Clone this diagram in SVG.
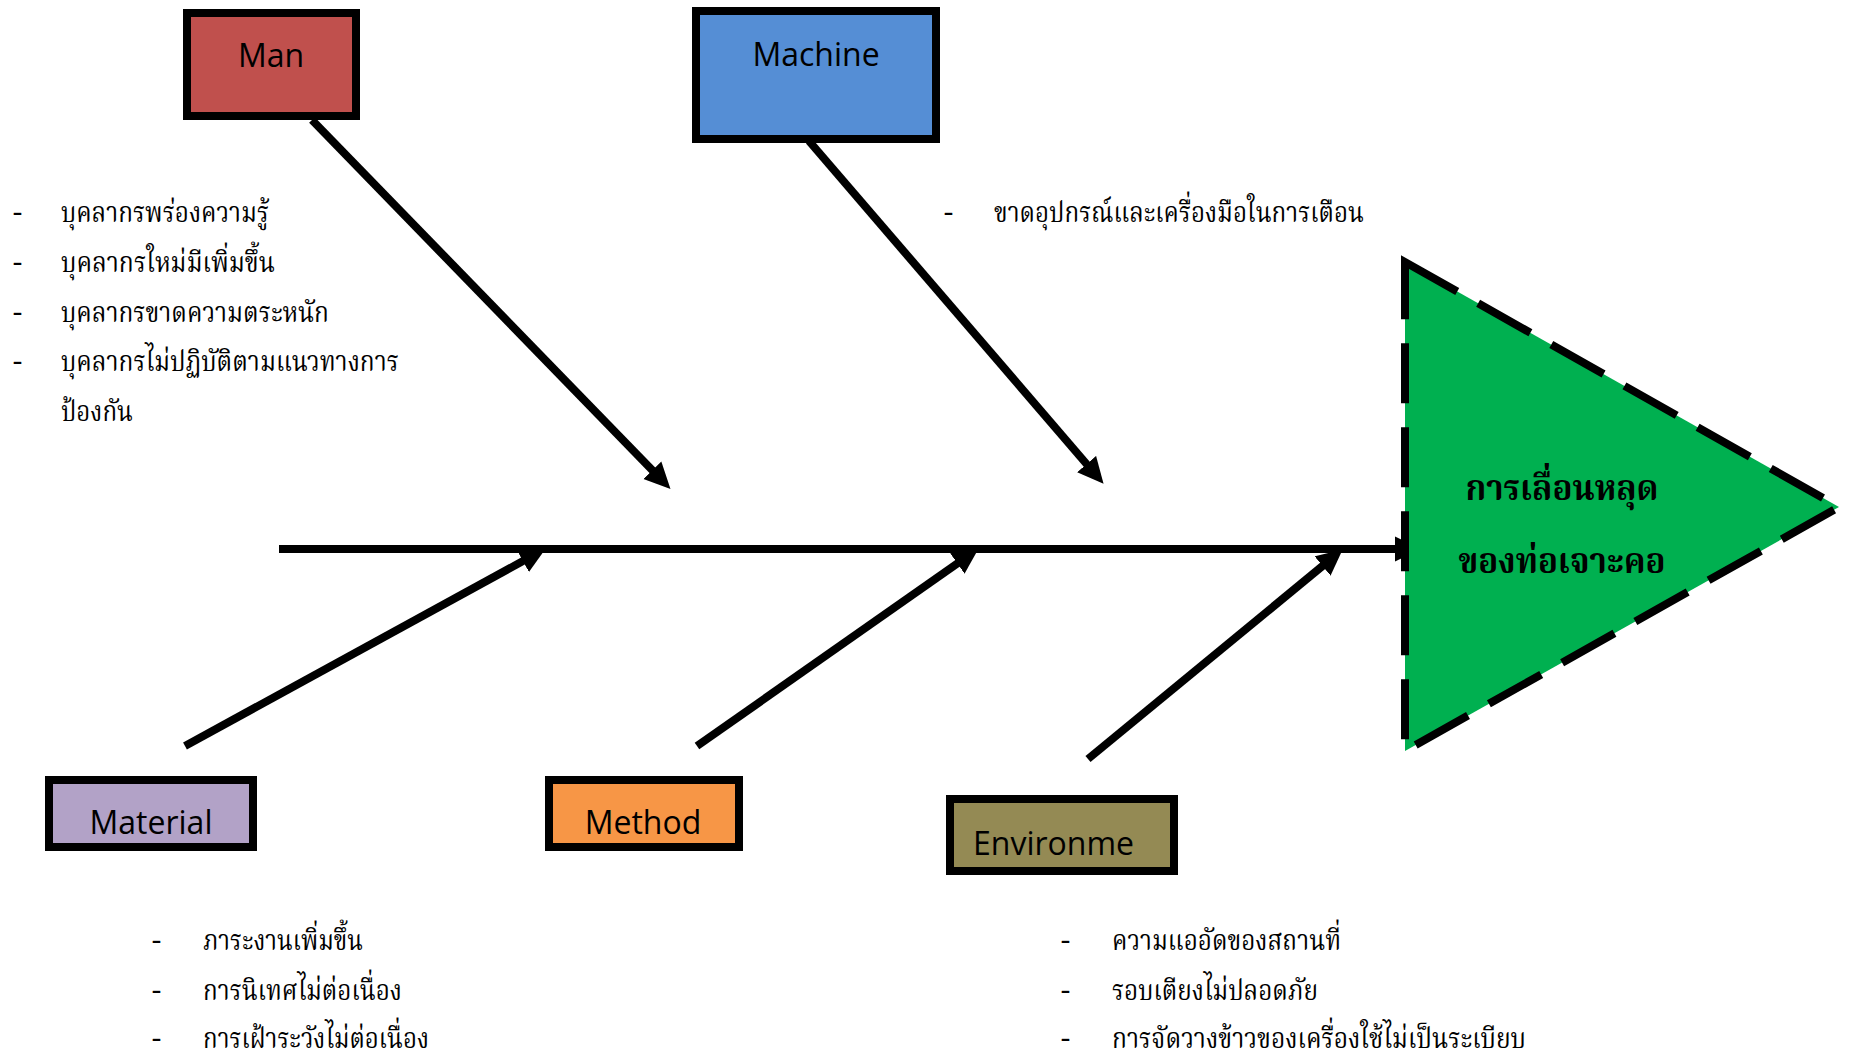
<svg xmlns="http://www.w3.org/2000/svg" width="1849" height="1056" viewBox="0 0 1849 1056">
  <style>
    .box { stroke: #000; stroke-width: 8; }
    .lbl { font-family: "Open Sans", "Noto Sans", "Liberation Sans", sans-serif; font-size: 32px; fill: #000; }
    .th { font-family: "Noto Serif Thai", "Norasi", "Tlwg Typo", "Noto Sans Thai", "Liberation Serif", "DejaVu Serif", serif; font-size: 29px; fill: #000; }
    .thb { font-family: "Noto Serif Thai", "Norasi", "Noto Sans Thai", "Liberation Serif", "DejaVu Serif", serif; font-size: 35px; font-weight: bold; fill: #000; }
    .conn { stroke: #000; stroke-width: 8; fill: none; marker-end: url(#ah); }
  </style>
  <defs>
    <marker id="ah" markerUnits="userSpaceOnUse" markerWidth="26" markerHeight="26" viewBox="0 0 25 24" refX="5" refY="12" orient="auto">
      <path d="M0,0 L25,12 L0,24 Z" fill="#000"/>
    </marker>
  </defs>
  <rect width="1849" height="1056" fill="#fff"/>

  <g id="connectors">
    <line class="conn" x1="279" y1="549" x2="1400" y2="549"/>
    <line class="conn" x1="312" y1="120" x2="656" y2="474"/>
    <line class="conn" x1="809" y1="141" x2="1090" y2="468"/>
    <line class="conn" x1="185" y1="746" x2="527.5" y2="558.6"/>
    <line class="conn" x1="697" y1="746" x2="961.6" y2="560.5"/>
    <line class="conn" x1="1088" y1="759" x2="1326.6" y2="562.7"/>
  </g>

  <g id="effect">
    <path d="M1405,262 L1839,507 L1405,751 Z" fill="#00B050" stroke="#000" stroke-width="8" stroke-dasharray="60 24"/>
    <text class="thb" x="1562" y="500" text-anchor="middle" textLength="193" lengthAdjust="spacingAndGlyphs">การเลื่อนหลุด</text>
    <text class="thb" x="1562" y="573" text-anchor="middle" textLength="207" lengthAdjust="spacingAndGlyphs">ของท่อเจาะคอ</text>
  </g>

  <g id="man">
    <rect class="box" x="187" y="13" width="169" height="103" fill="#C0504D"/>
    <text class="lbl" x="271" y="67" text-anchor="middle">Man</text>
  </g>
  <g id="machine">
    <rect class="box" x="696" y="11" width="240" height="128" fill="#558ED5"/>
    <text class="lbl" x="816" y="66" text-anchor="middle">Machine</text>
  </g>
  <g id="material">
    <rect class="box" x="49" y="780" width="204" height="67" fill="#B2A2C7"/>
    <text class="lbl" x="151" y="834" text-anchor="middle">Material</text>
  </g>
  <g id="method">
    <rect class="box" x="549" y="780" width="190" height="67" fill="#F79646"/>
    <text class="lbl" x="643" y="834" text-anchor="middle">Method</text>
  </g>
  <g id="environment">
    <rect class="box" x="950" y="799" width="224" height="72" fill="#948A54"/>
    <text class="lbl" x="973" y="855">Environme</text>
  </g>

  <g id="man-causes">
    <text class="th" x="13" y="222">-</text>
    <text class="th" x="61" y="222" textLength="208" lengthAdjust="spacingAndGlyphs">บุคลากรพร่องความรู้</text>
    <text class="th" x="13" y="272">-</text>
    <text class="th" x="61" y="272" textLength="214" lengthAdjust="spacingAndGlyphs">บุคลากรใหม่มีเพิ่มขึ้น</text>
    <text class="th" x="13" y="322">-</text>
    <text class="th" x="61" y="322" textLength="268" lengthAdjust="spacingAndGlyphs">บุคลากรขาดความตระหนัก</text>
    <text class="th" x="13" y="371">-</text>
    <text class="th" x="61" y="371" textLength="338" lengthAdjust="spacingAndGlyphs">บุคลากรไม่ปฏิบัติตามแนวทางการ</text>
    <text class="th" x="61" y="421" textLength="72" lengthAdjust="spacingAndGlyphs">ป้องกัน</text>
  </g>

  <g id="machine-causes">
    <text class="th" x="944" y="222">-</text>
    <text class="th" x="994" y="222" textLength="370" lengthAdjust="spacingAndGlyphs">ขาดอุปกรณ์และเครื่องมือในการเตือน</text>
  </g>

  <g id="material-causes">
    <text class="th" x="152" y="950">-</text>
    <text class="th" x="203" y="950" textLength="160" lengthAdjust="spacingAndGlyphs">ภาระงานเพิ่มขึ้น</text>
    <text class="th" x="152" y="1000">-</text>
    <text class="th" x="203" y="1000" textLength="199" lengthAdjust="spacingAndGlyphs">การนิเทศไม่ต่อเนื่อง</text>
    <text class="th" x="152" y="1048">-</text>
    <text class="th" x="203" y="1048" textLength="226" lengthAdjust="spacingAndGlyphs">การเฝ้าระวังไม่ต่อเนื่อง</text>
  </g>

  <g id="environment-causes">
    <text class="th" x="1061" y="950">-</text>
    <text class="th" x="1112" y="950" textLength="229" lengthAdjust="spacingAndGlyphs">ความแออัดของสถานที่</text>
    <text class="th" x="1061" y="1000">-</text>
    <text class="th" x="1112" y="1000" textLength="206" lengthAdjust="spacingAndGlyphs">รอบเตียงไม่ปลอดภัย</text>
    <text class="th" x="1061" y="1048">-</text>
    <text class="th" x="1112" y="1048" textLength="414" lengthAdjust="spacingAndGlyphs">การจัดวางข้าวของเครื่องใช้ไม่เป็นระเบียบ</text>
  </g>
</svg>
